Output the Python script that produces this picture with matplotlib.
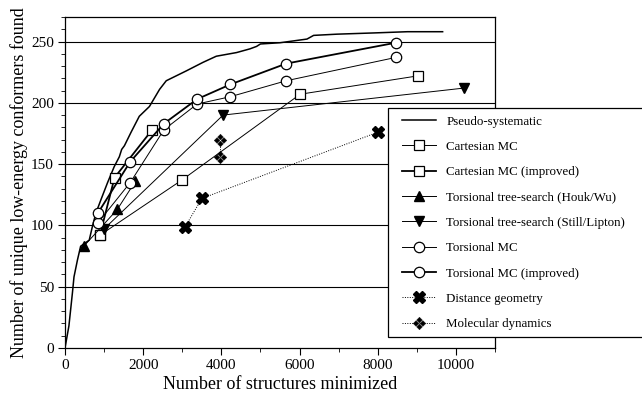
import matplotlib
matplotlib.use("Agg")
import matplotlib.pyplot as plt
from matplotlib.path import Path
from matplotlib.patches import Rectangle
from matplotlib.ticker import MultipleLocator

plt.rcParams['font.family'] = ['Liberation Serif', 'DejaVu Serif']

# ---- data ----
ps_x = [0, 100, 190, 230, 320, 400, 620, 700, 790, 920, 1090, 1260, 1390, 1450,
        1520, 1690, 1900, 2160, 2420, 2590, 3100, 3530, 3870, 4390, 4730, 4900,
        5000, 5500, 6190, 6360, 6960, 7900, 8760, 9660]
ps_y = [0, 18, 45, 58, 72, 83, 88, 99, 110, 121, 135, 148, 156, 162,
        165, 176, 189, 197, 211, 218, 226, 233, 238, 241, 244, 246,
        248, 249, 252, 255, 256, 257, 258, 258]

cart_x = [892, 2990, 6015, 9030]
cart_y = [92, 137, 207, 222]

cart_imp_x = [892, 1268, 2230]
cart_imp_y = [92, 139, 178]

houk_x = [480, 1337, 1800]
houk_y = [83, 113, 136]

still_x = [995, 4045, 10200]
still_y = [97, 190, 212]

tmc_x = [840, 1670, 2530, 3380, 4230, 5660, 8460]
tmc_y = [102, 135, 178, 199, 205, 218, 237]

tmc_imp_x = [840, 1670, 2530, 3380, 4230, 5660, 8460]
tmc_imp_y = [110, 152, 183, 203, 215, 232, 249]

dg_x = [3077, 3500, 8000]
dg_y = [99, 122, 176]

md_x = [3960, 3960]
md_y = [156, 170]

labels = ["Pseudo-systematic", "Cartesian MC", "Cartesian MC (improved)",
          "Torsional tree-search (Houk/Wu)", "Torsional tree-search (Still/Lipton)",
          "Torsional MC", "Torsional MC (improved)", "Distance geometry",
          "Molecular dynamics"]

# ---- custom marker: four small diamonds ----
def four_diamonds():
    verts, codes = [], []
    s = 0.45
    d = 0.55
    for cx, cy in [(0, d), (d, 0), (0, -d), (-d, 0)]:
        pts = [(cx, cy + s), (cx + s, cy), (cx, cy - s), (cx - s, cy), (cx, cy + s)]
        verts += pts
        codes += [Path.MOVETO, Path.LINETO, Path.LINETO, Path.LINETO, Path.CLOSEPOLY]
    return Path(verts, codes)

md_marker = four_diamonds()

W, H = 642, 394
fig = plt.figure(figsize=(W / 100, H / 100), dpi=100)
ax = fig.add_axes([65 / W, (H - 348) / H, (495 - 65) / W, (348 - 17) / H])

for yv in [50, 100, 150, 200, 250]:
    ax.axhline(yv, color='black', lw=0.8, zorder=1)

h = []
h += ax.plot(ps_x, ps_y, color='black', lw=1.1, zorder=3)
h += ax.plot(cart_x, cart_y, color='black', lw=0.7, marker='s', ms=7,
             mfc='white', mec='black', mew=0.9, zorder=4)
h += ax.plot(cart_imp_x, cart_imp_y, color='black', lw=1.3, marker='s', ms=7,
             mfc='white', mec='black', mew=0.9, zorder=4)
h += ax.plot(houk_x, houk_y, color='black', lw=0.7, marker='^', ms=7,
             mfc='black', mec='black', zorder=4)
h += ax.plot(still_x, still_y, color='black', lw=0.7, marker='v', ms=7,
             mfc='black', mec='black', zorder=4)
h += ax.plot(tmc_x, tmc_y, color='black', lw=0.7, marker='o', ms=7.5,
             mfc='white', mec='black', mew=0.9, zorder=4)
h += ax.plot(tmc_imp_x, tmc_imp_y, color='black', lw=1.3, marker='o', ms=7.5,
             mfc='white', mec='black', mew=0.9, zorder=4)
h += ax.plot(dg_x, dg_y, color='black', lw=0.7, ls=(0, (1, 1.5)), marker='X', ms=8,
             mfc='black', mec='black', zorder=4)
h += ax.plot(md_x, md_y, color='black', lw=0.7, ls=(0, (1, 1.5)), marker=md_marker,
             ms=9, mfc='black', mec='black', mew=0.3, zorder=4)

ax.set_xlim(0, 11000)
ax.set_ylim(0, 270)
ax.xaxis.set_major_locator(MultipleLocator(2000))
ax.xaxis.set_minor_locator(MultipleLocator(1000))
ax.yaxis.set_major_locator(MultipleLocator(50))
ax.yaxis.set_minor_locator(MultipleLocator(10))
ax.tick_params(which='major', direction='out', length=5, width=0.8, labelsize=11,
               color='black', pad=3)
ax.tick_params(which='minor', direction='out', length=3, width=0.6)
for sp in ax.spines.values():
    sp.set_linewidth(0.9)

ax.set_xlabel("Number of structures minimized", fontsize=13, labelpad=3)
ax.set_ylabel("Number of unique low-energy conformers found", fontsize=13, labelpad=2)

# legend frame drawn as a figure rectangle (extends past the right edge)
frame = Rectangle((388 / W, (H - 337) / H), (660 - 388) / W, (337 - 108) / H,
                  transform=fig.transFigure, facecolor='white', edgecolor='black',
                  lw=0.9, zorder=5)
fig.patches.append(frame)

leg = fig.legend(h, labels, loc='upper left',
                 bbox_to_anchor=(396 / W, (H - 109) / H),
                 fontsize=9.3, numpoints=1, frameon=False,
                 borderpad=0.5, labelspacing=1.03, handlelength=2.6,
                 handletextpad=0.8, borderaxespad=0)
leg.set_zorder(6)

fig.savefig("out.png", dpi=100)
